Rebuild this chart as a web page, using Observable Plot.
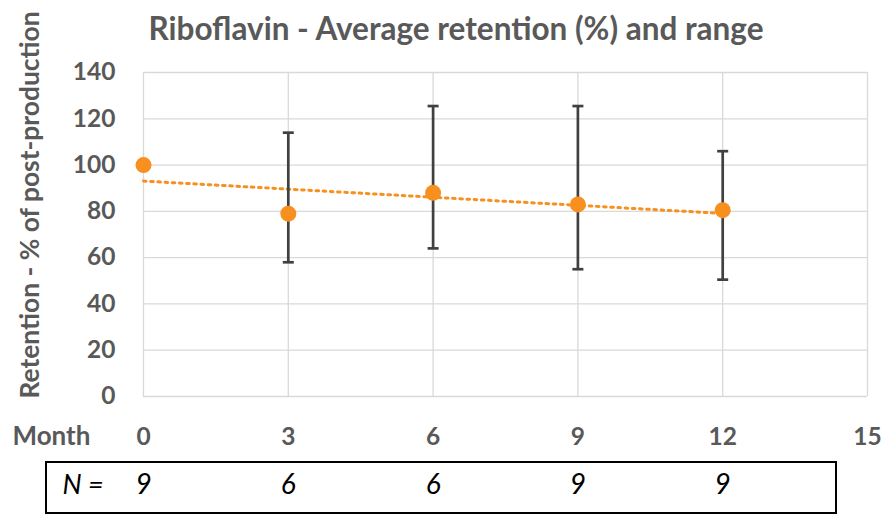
<!DOCTYPE html>
<html>
<head>
<meta charset="utf-8">
<script src="https://cdn.jsdelivr.net/npm/d3@7"></script>
<script src="https://cdn.jsdelivr.net/npm/@observablehq/plot@0.6"></script>
<style>
  html, body { margin: 0; padding: 0; background: #fff; }
  #wrap { position: relative; width: 883px; height: 515px; overflow: hidden; font-family: Lato, "Open Sans", sans-serif; }
  #title { position: absolute; left: 456px; top: 28px; transform: translate(-50%, -50%); white-space: nowrap;
           font-size: 31.5px; font-weight: bold; color: #595959; }
  #ylabel { position: absolute; left: 29px; top: 205px; transform: translate(-50%, -50%) rotate(-90deg); white-space: nowrap;
            font-size: 26.4px; font-weight: bold; color: #595959; }
  #nbox { position: absolute; left: 45px; top: 461px; width: 792px; height: 53px; box-sizing: border-box; border: 2px solid #000; }
  #wrap svg { position: absolute; left: 0; top: 0; }
</style>
</head>
<body>
<div id="wrap">
  <div id="title">Riboflavin - Average retention (%) and range</div>
  <div id="ylabel">Retention - % of post-production</div>
</div>
<script>
// Data
const months   = [0, 3, 6, 9, 12];
const average  = [100, 79, 88, 83, 80.5];
const rangeLow = [null, 58, 64, 55, 50.5];
const rangeHigh= [null, 114, 125.5, 125.5, 106];
const nCounts  = [9, 6, 6, 9, 9];
const xTicks   = [0, 3, 6, 9, 12, 15];
const yTicks   = [0, 20, 40, 60, 80, 100, 120, 140];

const data = months.map((m, i) => ({month: m, avg: average[i], lo: rangeLow[i], hi: rangeHigh[i], n: nCounts[i]}));
const ranged = data.filter(d => d.lo != null);

const cap = {
  draw(context, size) {
    const r = Math.sqrt(size / Math.PI);
    context.moveTo(-r, 0);
    context.lineTo(r, 0);
  }
};

const orange = "#F7901E";
const barColor = "#404040";

const chart = Plot.plot({
  width: 883,
  height: 515,
  marginTop: 72,
  marginBottom: 119,
  marginLeft: 143,
  marginRight: 16,
  style: {fontFamily: "Lato, 'Open Sans', sans-serif", fontWeight: "bold", color: "#595959", background: "transparent"},
  x: {domain: [0, 15]},
  y: {domain: [0, 140]},
  marks: [
    Plot.gridY(yTicks, {stroke: "#d9d9d9", strokeOpacity: 1, strokeWidth: 1.3}),
    Plot.gridX(xTicks, {stroke: "#d9d9d9", strokeOpacity: 1, strokeWidth: 1.3}),
    Plot.axisY(yTicks, {tickSize: 0, tickPadding: 28, fontSize: 24.5, label: null, fill: "#595959"}),
    Plot.axisX(xTicks, {tickSize: 0, tickPadding: 31, fontSize: 24.5, label: null, fill: "#595959"}),
    Plot.linearRegressionY(data, {x: "month", y: "avg", ci: 0, stroke: orange, strokeWidth: 3, strokeDasharray: "2.6,4.6"}),
    Plot.ruleX(ranged, {x: "month", y1: "lo", y2: "hi", stroke: barColor, strokeWidth: 2.7}),
    Plot.dot(ranged, {x: "month", y: "hi", symbol: cap, r: 5.5, stroke: barColor, strokeWidth: 2.7}),
    Plot.dot(ranged, {x: "month", y: "lo", symbol: cap, r: 5.5, stroke: barColor, strokeWidth: 2.7}),
    Plot.dot(data, {x: "month", y: "avg", r: 8, fill: orange, stroke: "none"}),
    Plot.text(["Month"], {text: d => d, frameAnchor: "bottom-left", dx: -131, dy: 48, textAnchor: "start", fontSize: 26, fill: "#595959"}),
    Plot.text(["N ="], {text: d => d, frameAnchor: "bottom-left", dx: -81, dy: 97, textAnchor: "start", fontSize: 27, fontStyle: "italic", fontWeight: "normal", fill: "#000"}),
    Plot.text(data, {x: "month", text: "n", frameAnchor: "bottom", dy: 97, fontSize: 28, fontStyle: "italic", fontWeight: "normal", fill: "#000"})
  ]
});
document.getElementById("wrap").appendChild(chart);
const box = document.createElement("div");
box.id = "nbox";
document.getElementById("wrap").appendChild(box);
</script>
</body>
</html>
